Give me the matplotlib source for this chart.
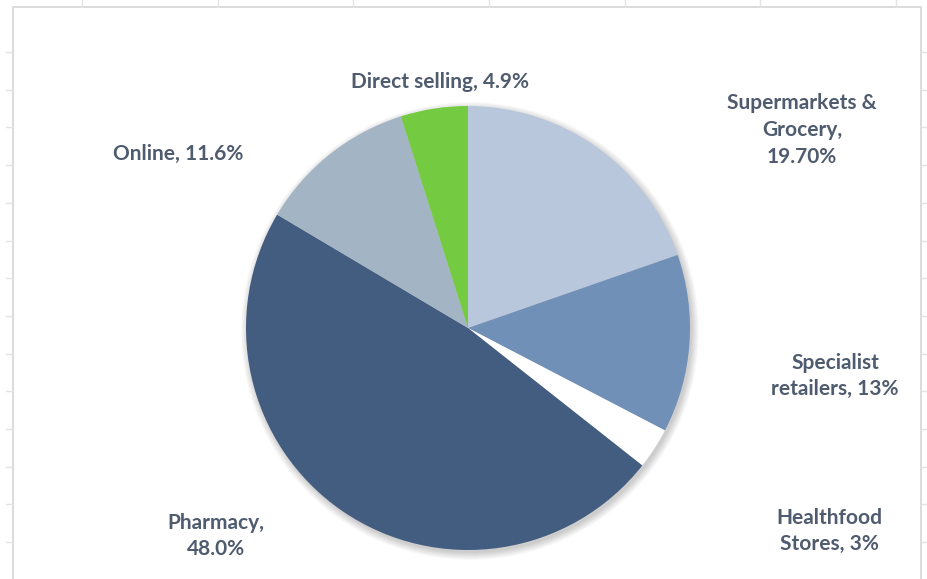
import numpy as np
import matplotlib.pyplot as plt
from matplotlib.patches import Circle, Rectangle

# channel shares, clockwise from 12 o'clock
channels = ['Supermarkets &\nGrocery,', 'Specialist\nretailers,', 'Healthfood\nStores,',
            'Pharmacy,', 'Online,', 'Direct selling,']
shares = [19.7, 13.0, 3.0, 48.0, 11.6, 4.9]
share_text = ['19.70%', '13%', '3%', '48.0%', '11.6%', '4.9%']
colors = ['#b8c7dc', '#7190b8', '#ffffff', '#435d81', '#a3b5c4', '#74cb42']

W, H = 928, 579
fig = plt.figure(figsize=(W / 100, H / 100), dpi=100)
ax = fig.add_axes([0, 0, 1, 1])

def py(y):
    # top-down pixel row -> axes y
    return H - y

cx, cy, r = 468, py(328), 222

# soft shadow round the pie
for i in range(10):
    ax.add_patch(Circle((cx + 2, cy - 3), r + 7 - i * 0.8, color='#000000',
                        alpha=0.018, lw=0, zorder=1))

wedges, _ = ax.pie(shares, colors=colors, startangle=90, counterclock=False,
                   center=(cx, cy), radius=r, frame=True,
                   wedgeprops=dict(linewidth=0, zorder=2))
ax.set_xlim(0, W)
ax.set_ylim(0, H)
ax.set_aspect('equal')
ax.axis('off')

# sheet cell gridlines peeking out round the chart area
grid_c = '#e3e3e3'
for x in [82, 218, 353, 489, 625, 760, 896]:
    ax.plot([x, x], [py(0), py(7)], color=grid_c, lw=1)
for y in np.arange(52, 579, 37.7):
    ax.plot([6, 13], [py(y), py(y)], color=grid_c, lw=1)
    ax.plot([921, W], [py(y), py(y)], color=grid_c, lw=1)
ax.add_patch(Rectangle((13, -5), 908, py(7) + 5, fill=False, ec='#d6d6d6', lw=1.2))

# label positions (centre of each text block)
label_xy = [(802, 130), (835, 376), (829, 531), (216, 536), (178, 154), (440, 82)]
txt_c = '#4f5b6e'
for name, pct, (lx, ly) in zip(channels, share_text, label_xy):
    if name.startswith(('Supermarkets', 'Pharmacy')):
        s = name + '\n' + pct
    else:
        s = name + ' ' + pct
    ax.text(lx, py(ly), s, ha='center', va='center', fontsize=15,
            family=['Lato', 'DejaVu Sans'], fontweight='bold', color=txt_c,
            linespacing=1.42, zorder=5)

fig.savefig('out.png', dpi=100, facecolor='white')
